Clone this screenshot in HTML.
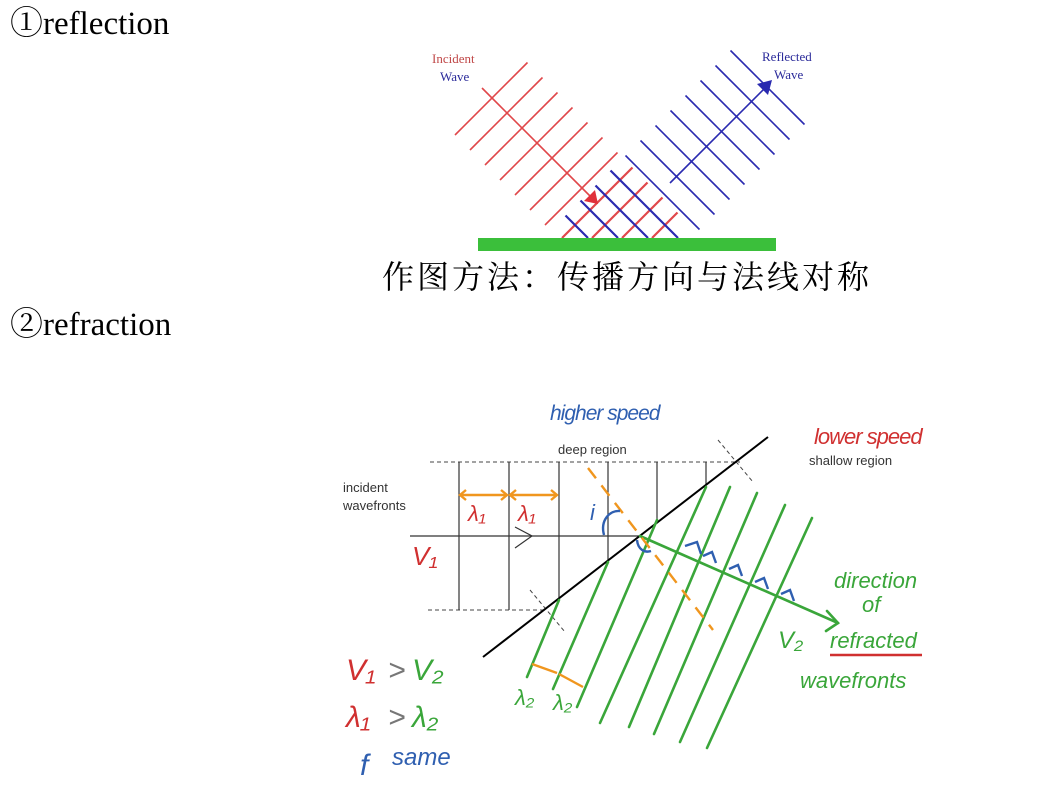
<!DOCTYPE html>
<html><head><meta charset="utf-8"><style>
html,body{margin:0;padding:0;background:#fff;}
body{width:1054px;height:794px;position:relative;overflow:hidden;}
svg{position:absolute;left:0;top:0;}
</style></head><body>
<svg width="1054" height="794" viewBox="0 0 1054 794" xmlns="http://www.w3.org/2000/svg">
<text x="10" y="34" font-family="Liberation Serif, 'Noto Serif CJK SC', serif" font-size="33" fill="#000">①reflection</text>
<text x="10" y="335" font-family="Liberation Serif, 'Noto Serif CJK SC', serif" font-size="33" fill="#000">②refraction</text>
<text x="382" y="288" font-family="'Liberation Serif','Noto Serif CJK SC',serif" font-size="32" letter-spacing="3" fill="#000">作图方法：传播方向与法线对称</text>

<!-- reflection -->
<g stroke="#e0474a" stroke-width="1.6">
<line x1="527.5" y1="62.5" x2="455" y2="135"/>
<line x1="542.5" y1="77.5" x2="470" y2="150"/>
<line x1="557.5" y1="92.5" x2="485" y2="165"/>
<line x1="572.5" y1="107.5" x2="500" y2="180"/>
<line x1="587.5" y1="122.5" x2="515" y2="195"/>
<line x1="602.5" y1="137.5" x2="530" y2="210"/>
<line x1="617.5" y1="152.5" x2="545" y2="225"/>
<line x1="632.5" y1="167.5" x2="562" y2="238" stroke-width="2.2"/>
<line x1="647.5" y1="182.5" x2="592" y2="238" stroke-width="2.2"/>
<line x1="662.5" y1="197.5" x2="622" y2="238" stroke-width="2.2"/>
<line x1="677.5" y1="212.5" x2="652" y2="238" stroke-width="2.2"/>
<line x1="482" y1="88" x2="593" y2="199"/>
</g>
<polygon points="598,204 584,201 595,190" fill="#e0303a"/>
<g stroke="#2a2ab0" stroke-width="1.6">
<line x1="565.5" y1="215.5" x2="588" y2="238" stroke-width="2.2"/>
<line x1="580.5" y1="200.5" x2="618" y2="238" stroke-width="2.2"/>
<line x1="595.5" y1="185.5" x2="648" y2="238" stroke-width="2.2"/>
<line x1="610.5" y1="170.5" x2="678" y2="238" stroke-width="2.2"/>
<line x1="625.5" y1="155.5" x2="699.5" y2="229.5"/>
<line x1="640.5" y1="140.5" x2="714.5" y2="214.5"/>
<line x1="655.5" y1="125.5" x2="729.5" y2="199.5"/>
<line x1="670.5" y1="110.5" x2="744.5" y2="184.5"/>
<line x1="685.5" y1="95.5" x2="759.5" y2="169.5"/>
<line x1="700.5" y1="80.5" x2="774.5" y2="154.5"/>
<line x1="715.5" y1="65.5" x2="789.5" y2="139.5"/>
<line x1="730.5" y1="50.5" x2="804.5" y2="124.5"/>
<line x1="670" y1="183" x2="766" y2="87"/>
</g>
<polygon points="772,80 768,95 757,84" fill="#2a2ab0"/>
<rect x="478" y="238" width="298" height="13" fill="#3bbf3b"/>
<text x="432" y="63" font-family="Liberation Serif,serif" font-size="13" fill="#c04848">Incident</text>
<text x="440" y="81" font-family="Liberation Serif,serif" font-size="13" fill="#2a2a9a">Wave</text>
<text x="762" y="61" font-family="Liberation Serif,serif" font-size="13" fill="#2a2a9a">Reflected</text>
<text x="774" y="79" font-family="Liberation Serif,serif" font-size="13" fill="#2a2a9a">Wave</text>

<!-- refraction -->
<g stroke="#444" stroke-width="1" stroke-dasharray="4,3">
<line x1="430" y1="462" x2="740" y2="462"/>
<line x1="428" y1="610" x2="543" y2="610"/>
<line x1="530" y1="590" x2="565" y2="632"/>
<line x1="718" y1="440" x2="753" y2="482"/>
</g>
<g stroke="#333" stroke-width="1.2">
<line x1="459" y1="462" x2="459" y2="610"/>
<line x1="509" y1="462" x2="509" y2="610"/>
<line x1="559" y1="462" x2="559" y2="598"/>
<line x1="608" y1="462" x2="608" y2="560"/>
<line x1="657" y1="462" x2="657" y2="523"/>
<line x1="706" y1="462" x2="706" y2="485"/>
<line x1="410" y1="536" x2="640" y2="536"/>
<polyline points="515,527 532,536 515,548" fill="none"/>
</g>
<line x1="483" y1="657" x2="768" y2="437" stroke="#000" stroke-width="2"/>
<g stroke="#3aa63a" stroke-width="2.6" stroke-linecap="round">
<line x1="559" y1="600" x2="527" y2="677"/>
<line x1="608" y1="562" x2="553" y2="689"/>
<line x1="657" y1="520" x2="577" y2="707"/>
<line x1="706" y1="487" x2="600" y2="723"/>
<line x1="730" y1="487" x2="629" y2="727"/>
<line x1="757" y1="493" x2="654" y2="734"/>
<line x1="785" y1="505" x2="680" y2="742"/>
<line x1="812" y1="518" x2="707" y2="748"/>
<line x1="640" y1="536" x2="838" y2="623"/>
<polyline points="827,611 838,623 826,631" fill="none"/>
</g>
<line x1="588" y1="468" x2="713" y2="630" stroke="#f0961e" stroke-width="2.4" stroke-dasharray="13,9"/>
<g stroke="#f0961e" stroke-width="2.4" fill="none">
<line x1="460" y1="495" x2="507" y2="495"/>
<polyline points="466,490 460,495 466,500"/><polyline points="501,490 507,495 501,500"/>
<line x1="510" y1="495" x2="557" y2="495"/>
<polyline points="516,490 510,495 516,500"/><polyline points="551,490 557,495 551,500"/>
<line x1="532" y1="664" x2="557" y2="673"/>
<line x1="559" y1="674" x2="583" y2="687"/>
</g>
<g stroke="#2f5fb0" stroke-width="2.4" fill="none">
<path d="M604,535 C600,520 610,510 620,511"/>
<path d="M637,540 C638,550 645,553 651,551"/>
<polyline points="685,546 697,542 701,554"/>
<polyline points="703,556 712,552 716,563"/>
<polyline points="729,569 738,565 742,576"/>
<polyline points="755,582 764,578 768,589"/>
<polyline points="781,594 790,590 794,601"/>
</g>
<g font-family="Liberation Sans,Arial,sans-serif" font-size="13" fill="#333">
<text x="343" y="492">incident</text>
<text x="343" y="510">wavefronts</text>
<text x="558" y="454">deep region</text>
<text x="809" y="465">shallow region</text>
</g>
<g font-family="Liberation Sans,sans-serif" font-style="italic">
<text x="550" y="420" font-size="21" fill="#2f5fb0" letter-spacing="-1">higher speed</text>
<text x="814" y="444" font-size="22" fill="#d03030" letter-spacing="-1">lower speed</text>
<text x="468" y="521" font-size="22" fill="#d03030">λ₁</text>
<text x="518" y="521" font-size="22" fill="#d03030">λ₁</text>
<text x="590" y="520" font-size="22" fill="#2f5fb0">i</text>
<text x="412" y="565" font-size="26" fill="#d03030">V₁</text>
<text x="778" y="648" font-size="24" fill="#3aa63a">V₂</text>
<text x="834" y="588" font-size="22" fill="#3aa63a">direction</text>
<text x="862" y="612" font-size="22" fill="#3aa63a">of</text>
<text x="830" y="648" font-size="22" fill="#3aa63a">refracted</text>
<text x="800" y="688" font-size="22" fill="#3aa63a">wavefronts</text>
<text x="515" y="705" font-size="22" fill="#3aa63a">λ₂</text>
<text x="553" y="710" font-size="22" fill="#3aa63a">λ₂</text>
<text x="346" y="680" font-size="30" fill="#d03030">V₁</text>
<text x="388" y="680" font-size="30" fill="#777">&gt;</text>
<text x="412" y="680" font-size="30" fill="#3aa63a">V₂</text>
<text x="346" y="727" font-size="30" fill="#d03030">λ₁</text>
<text x="388" y="727" font-size="30" fill="#777">&gt;</text>
<text x="412" y="727" font-size="30" fill="#3aa63a">λ₂</text>
<text x="360" y="775" font-size="30" fill="#2f5fb0">f</text>
<text x="392" y="765" font-size="24" fill="#2f5fb0">same</text>
</g>
<line x1="830" y1="655" x2="922" y2="655" stroke="#d03030" stroke-width="2.4"/>
</svg>
</body></html>
